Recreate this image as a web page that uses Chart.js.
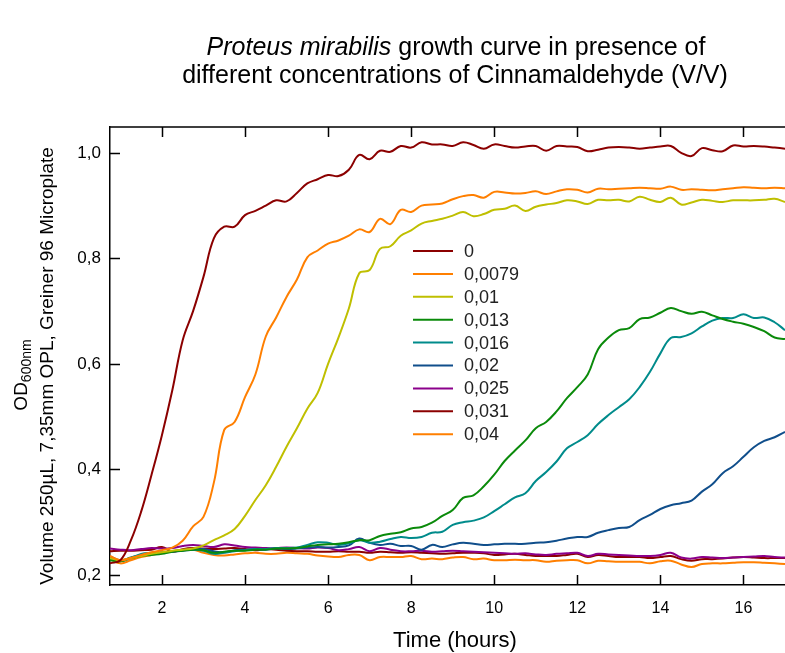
<!DOCTYPE html>
<html>
<head>
<meta charset="utf-8">
<script src="https://cdn.jsdelivr.net/npm/chart.js@4"></script>
<style>
  html, body { margin: 0; padding: 0; background: #fff; }
  canvas { display: block; }
</style>
</head>
<body>
<canvas id="growthChart" width="785" height="653"></canvas>
<script>
    // time points (hours), one reading every 15 min
    const hours = [0.75, 1, 1.25, 1.5, 1.75, 2, 2.25, 2.5, 2.75, 3, 3.25, 3.5, 3.75, 4, 4.25, 4.5, 4.75, 5,
      5.25, 5.5, 5.75, 6, 6.25, 6.5, 6.75, 7, 7.25, 7.5, 7.75, 8, 8.25, 8.5, 8.75, 9, 9.25, 9.5, 9.75, 10,
      10.25, 10.5, 10.75, 11, 11.25, 11.5, 11.75, 12, 12.25, 12.5, 12.75, 13, 13.25, 13.5, 13.75, 14,
      14.25, 14.5, 14.75, 15, 15.25, 15.5, 15.75, 16, 16.25, 16.5, 16.75, 17];

    const concentrations = ['0', '0,0079', '0,01', '0,013', '0,016', '0,02', '0,025', '0,031', '0,04'];
    const colors = ['#8B0000', '#FF7F00', '#BFBF00', '#0A8A0A', '#008B8B', '#104E8B', '#8B008B', '#8B0000', '#FF7F00'];

    const xTicks = [2, 4, 6, 8, 10, 12, 14, 16];
    const yTicks = [0.2, 0.4, 0.6, 0.8, 1.0];
    const yTickLabels = ['0,2', '0,4', '0,6', '0,8', '1,0'];

    const od0 = [0.222, 0.228, 0.265, 0.32, 0.39, 0.465, 0.55, 0.645, 0.70, 0.765, 0.838, 0.860, 0.860, 0.882,
      0.890, 0.900, 0.910, 0.908, 0.924, 0.942, 0.950, 0.958, 0.956, 0.968, 0.996, 0.988, 1.004, 1.002, 1.013,
      1.010, 1.020, 1.016, 1.016, 1.013, 1.020, 1.015, 1.008, 1.016, 1.013, 1.010, 1.012, 1.013, 1.004, 1.013,
      1.012, 1.011, 1.003, 1.006, 1.010, 1.011, 1.010, 1.008, 1.010, 1.012, 1.013, 1.000, 0.994, 1.009, 1.005,
      1.003, 1.014, 1.012, 1.013, 1.012, 1.010, 1.008];
    const od0079 = [0.236, 0.228, 0.232, 0.238, 0.243, 0.247, 0.252, 0.265, 0.292, 0.31, 0.375, 0.475, 0.490,
      0.537, 0.580, 0.652, 0.688, 0.727, 0.760, 0.802, 0.815, 0.828, 0.834, 0.843, 0.855, 0.850, 0.875, 0.865,
      0.892, 0.888, 0.900, 0.902, 0.904, 0.912, 0.918, 0.920, 0.915, 0.926, 0.925, 0.923, 0.924, 0.927, 0.922,
      0.927, 0.931, 0.930, 0.925, 0.932, 0.931, 0.932, 0.933, 0.934, 0.933, 0.932, 0.936, 0.930, 0.931, 0.930,
      0.929, 0.931, 0.933, 0.935, 0.934, 0.933, 0.934, 0.933];
    const od01 = [0.232, 0.228, 0.232, 0.236, 0.240, 0.243, 0.246, 0.248, 0.250, 0.256, 0.266, 0.275, 0.287,
      0.312, 0.342, 0.370, 0.405, 0.443, 0.478, 0.515, 0.545, 0.60, 0.650, 0.705, 0.772, 0.778, 0.818, 0.823,
      0.843, 0.853, 0.866, 0.871, 0.875, 0.881, 0.888, 0.880, 0.884, 0.892, 0.894, 0.900, 0.890, 0.898, 0.902,
      0.905, 0.910, 0.908, 0.903, 0.911, 0.910, 0.911, 0.908, 0.917, 0.911, 0.907, 0.915, 0.902, 0.906, 0.911,
      0.909, 0.907, 0.910, 0.910, 0.910, 0.911, 0.913, 0.907];
    const od013 = [0.228, 0.226, 0.232, 0.236, 0.238, 0.240, 0.244, 0.246, 0.248, 0.247, 0.242, 0.244, 0.246,
      0.246, 0.248, 0.248, 0.250, 0.250, 0.251, 0.254, 0.257, 0.258, 0.259, 0.262, 0.266, 0.266, 0.274, 0.278,
      0.281, 0.288, 0.291, 0.299, 0.312, 0.323, 0.346, 0.351, 0.368, 0.390, 0.416, 0.436, 0.455, 0.478, 0.490,
      0.510, 0.535, 0.556, 0.580, 0.628, 0.650, 0.664, 0.668, 0.685, 0.688, 0.697, 0.706, 0.700, 0.695, 0.699,
      0.692, 0.685, 0.680, 0.676, 0.670, 0.662, 0.650, 0.647];
    const od016 = [0.232, 0.226, 0.232, 0.240, 0.242, 0.243, 0.245, 0.247, 0.248, 0.246, 0.240, 0.242, 0.245,
      0.247, 0.249, 0.249, 0.251, 0.251, 0.252, 0.257, 0.262, 0.261, 0.257, 0.260, 0.266, 0.261, 0.263, 0.268,
      0.272, 0.270, 0.272, 0.280, 0.282, 0.295, 0.300, 0.303, 0.309, 0.321, 0.334, 0.347, 0.355, 0.378, 0.395,
      0.415, 0.440, 0.452, 0.465, 0.486, 0.503, 0.518, 0.533, 0.556, 0.585, 0.620, 0.649, 0.651, 0.658, 0.671,
      0.682, 0.687, 0.687, 0.694, 0.687, 0.688, 0.679, 0.664];
    const od02 = [0.235, 0.228, 0.233, 0.238, 0.240, 0.242, 0.244, 0.246, 0.248, 0.249, 0.245, 0.243, 0.247,
      0.248, 0.249, 0.248, 0.250, 0.249, 0.250, 0.252, 0.253, 0.252, 0.253, 0.256, 0.269, 0.261, 0.257, 0.259,
      0.255, 0.255, 0.248, 0.257, 0.253, 0.258, 0.261, 0.259, 0.257, 0.258, 0.259, 0.259, 0.259, 0.261, 0.262,
      0.265, 0.269, 0.272, 0.272, 0.280, 0.285, 0.289, 0.291, 0.304, 0.314, 0.325, 0.332, 0.336, 0.341, 0.358,
      0.372, 0.393, 0.406, 0.424, 0.442, 0.454, 0.461, 0.471];
    const od025 = [0.250, 0.248, 0.247, 0.249, 0.251, 0.250, 0.251, 0.255, 0.257, 0.255, 0.253, 0.258, 0.256,
      0.253, 0.252, 0.251, 0.251, 0.252, 0.251, 0.250, 0.252, 0.251, 0.247, 0.249, 0.253, 0.245, 0.251, 0.248,
      0.245, 0.245, 0.246, 0.244, 0.245, 0.246, 0.245, 0.244, 0.243, 0.242, 0.241, 0.240, 0.241, 0.239, 0.238,
      0.240, 0.241, 0.242, 0.236, 0.240, 0.239, 0.238, 0.237, 0.236, 0.236, 0.238, 0.242, 0.233, 0.231, 0.234,
      0.233, 0.232, 0.233, 0.234, 0.235, 0.236, 0.234, 0.233];
    const od031 = [0.245, 0.246, 0.246, 0.247, 0.248, 0.253, 0.244, 0.249, 0.251, 0.250, 0.249, 0.250, 0.251,
      0.249, 0.247, 0.249, 0.248, 0.246, 0.245, 0.245, 0.244, 0.244, 0.245, 0.244, 0.244, 0.242, 0.244, 0.243,
      0.242, 0.243, 0.242, 0.241, 0.240, 0.241, 0.242, 0.242, 0.241, 0.238, 0.239, 0.240, 0.238, 0.236, 0.236,
      0.236, 0.238, 0.240, 0.234, 0.238, 0.236, 0.234, 0.234, 0.234, 0.232, 0.234, 0.236, 0.230, 0.227, 0.230,
      0.230, 0.231, 0.233, 0.234, 0.233, 0.232, 0.232, 0.232];
    const od04 = [0.230, 0.222, 0.228, 0.234, 0.238, 0.241, 0.245, 0.247, 0.248, 0.242, 0.238, 0.237, 0.239,
      0.241, 0.242, 0.240, 0.240, 0.242, 0.241, 0.240, 0.237, 0.235, 0.234, 0.238, 0.238, 0.228, 0.234, 0.234,
      0.234, 0.236, 0.230, 0.231, 0.230, 0.233, 0.234, 0.230, 0.231, 0.228, 0.228, 0.229, 0.228, 0.228, 0.225,
      0.227, 0.228, 0.228, 0.222, 0.227, 0.226, 0.225, 0.225, 0.225, 0.222, 0.226, 0.227, 0.220, 0.215, 0.221,
      0.222, 0.222, 0.223, 0.224, 0.224, 0.223, 0.222, 0.221];

    const series = [od0, od0079, od01, od013, od016, od02, od025, od031, od04];
    const FONT = '"Liberation Sans", Arial, sans-serif';

    // title, y label, legend, inward ticks and top frame line
    const decorations = {
      id: 'decorations',
      afterDraw(chart) {
        const ctx = chart.ctx;
        const area = chart.chartArea;
        const xs = chart.scales.x;
        const ys = chart.scales.y;
        ctx.save();
        ctx.fillStyle = '#000';
        ctx.textBaseline = 'middle';

        // title line 1 (mixed italic)
        ctx.font = 'italic 25px ' + FONT;
        const p1 = 'Proteus mirabilis';
        const w1 = ctx.measureText(p1).width;
        ctx.font = '25px ' + FONT;
        const p2 = ' growth curve in presence of';
        const w2 = ctx.measureText(p2).width;
        let tx = 456 - (w1 + w2) / 2;
        ctx.textAlign = 'left';
        ctx.font = 'italic 25px ' + FONT;
        ctx.fillText(p1, tx, 48);
        ctx.font = '25px ' + FONT;
        ctx.fillText(p2, tx + w1, 48);
        ctx.textAlign = 'center';
        ctx.fillText('different concentrations of Cinnamaldehyde (V/V)', 455, 76);

        // x label
        ctx.font = '22px ' + FONT;
        ctx.fillText('Time (hours)', 455, 641);

        // y label
        ctx.save();
        ctx.translate(48, 366);
        ctx.rotate(-Math.PI / 2);
        ctx.font = '19px ' + FONT;
        ctx.fillText('Volume 250\u00b5L, 7,35mm OPL, Greiner 96 Microplate', 0, 0);
        ctx.restore();
        ctx.save();
        ctx.translate(22, 375);
        ctx.rotate(-Math.PI / 2);
        ctx.textAlign = 'left';
        ctx.font = '19px ' + FONT;
        const odW = ctx.measureText('OD').width;
        ctx.font = '14px ' + FONT;
        const subW = ctx.measureText('600nm').width;
        const start = -(odW + subW) / 2;
        ctx.font = '19px ' + FONT;
        ctx.fillText('OD', start, 0);
        ctx.font = '14px ' + FONT;
        ctx.fillText('600nm', start + odW, 5);
        ctx.restore();

        // frame top line + inward ticks
        ctx.strokeStyle = '#000';
        ctx.lineWidth = 1.5;
        ctx.beginPath();
        ctx.moveTo(area.left, area.top);
        ctx.lineTo(area.right, area.top);
        xTicks.forEach(v => {
          const px = Math.round(xs.getPixelForValue(v)) + 0.5;
          ctx.moveTo(px, area.bottom);
          ctx.lineTo(px, area.bottom - 10);
          ctx.moveTo(px, area.top);
          ctx.lineTo(px, area.top + 10);
        });
        yTicks.forEach(v => {
          const py = Math.round(ys.getPixelForValue(v)) + 0.5;
          ctx.moveTo(area.left, py);
          ctx.lineTo(area.left + 10, py);
        });
        ctx.stroke();

        // legend
        ctx.textAlign = 'left';
        ctx.font = '18px ' + FONT;
        chart.data.datasets.forEach((ds, i) => {
          const ly = 251 + i * 22.9;
          ctx.strokeStyle = ds.borderColor;
          ctx.lineWidth = 2;
          ctx.beginPath();
          ctx.moveTo(413, ly);
          ctx.lineTo(453, ly);
          ctx.stroke();
          ctx.fillStyle = '#222';
          ctx.fillText(ds.label, 464, ly + 1);
        });
        ctx.restore();
      }
    };

    new Chart(document.getElementById('growthChart').getContext('2d'), {
      type: 'line',
      data: {
        datasets: series.map((values, i) => ({
          label: concentrations[i],
          data: hours.map((h, j) => ({ x: h, y: values[j] })),
          borderColor: colors[i],
          borderWidth: 2,
          pointRadius: 0,
          tension: 0.4,
          fill: false
        }))
      },
      options: {
        responsive: false,
        animation: false,
        layout: { padding: { top: 127, left: 0, right: 0, bottom: 0 } },
        plugins: {
          legend: { display: false },
          title: { display: false },
          tooltip: { enabled: false }
        },
        scales: {
          x: {
            type: 'linear',
            min: 0.75,
            max: 17,
            afterBuildTicks: scale => { scale.ticks = xTicks.map(v => ({ value: v })); },
            afterFit: scale => { scale.height = 68; },
            grid: { display: false, drawTicks: false },
            border: { display: true, color: '#000', width: 1.5 },
            ticks: {
              color: '#000',
              font: { family: FONT, size: 16 },
              padding: 14,
              maxRotation: 0,
              callback: v => String(v)
            }
          },
          y: {
            min: 0.181,
            max: 1.049,
            afterBuildTicks: scale => { scale.ticks = yTicks.map(v => ({ value: v })); },
            afterFit: scale => { scale.width = 110; },
            grid: { display: false, drawTicks: false },
            border: { display: true, color: '#000', width: 1.5 },
            ticks: {
              color: '#000',
              font: { family: FONT, size: 17 },
              padding: 9,
              callback: v => yTickLabels[yTicks.indexOf(v)] ?? ''
            }
          }
        }
      },
      plugins: [decorations]
    });
</script>
</body>
</html>
